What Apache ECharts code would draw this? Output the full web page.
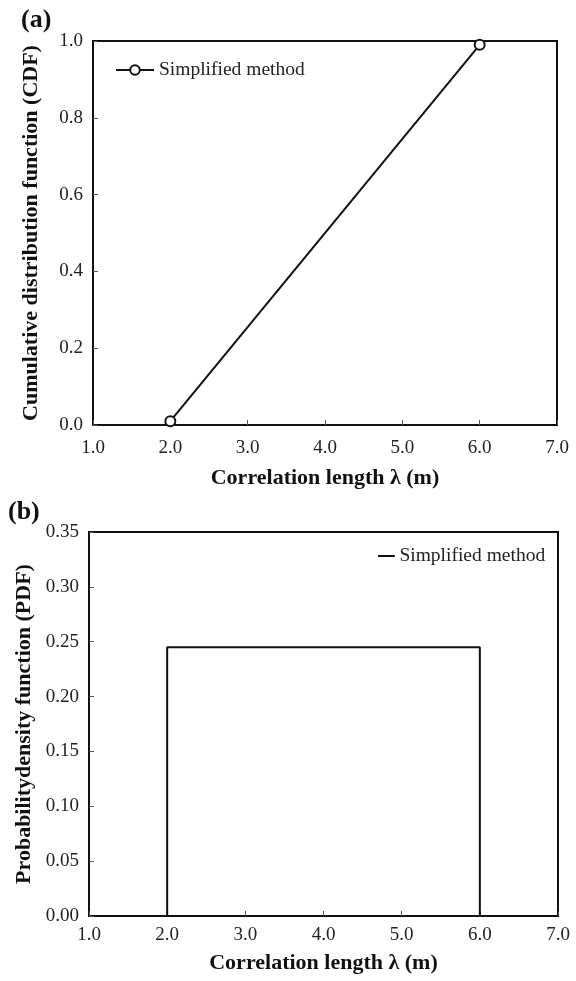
<!DOCTYPE html>
<html>
<head>
<meta charset="utf-8">
<script src="https://cdn.jsdelivr.net/npm/echarts@6/dist/echarts.min.js"></script>
<style>
  html, body { margin: 0; padding: 0; background: #fff; }
  #chart { width: 576px; height: 981px; }
</style>
</head>
<body>
<div id="chart"></div>
<script>
// data
var xTicks = [1, 2, 3, 4, 5, 6, 7];
var cdfX = [2, 6];
var cdfY = [0.01, 0.99];
var pdfX = [2, 2, 6, 6];
var pdfY = [0, 0.245, 0.245, 0];
var seriesName = 'Simplified method';

var serif = 'Liberation Serif';
var chart = echarts.init(document.getElementById('chart'));

function xAxisCfg(idx) {
  return {
    gridIndex: idx,
    type: 'value',
    min: xTicks[0], max: xTicks[xTicks.length - 1], interval: 1,
    name: 'Correlation length \u03bb (m)',
    nameLocation: 'middle',
    nameGap: idx === 0 ? 42 : 36,
    nameTextStyle: { fontFamily: serif, fontWeight: 'bold', fontSize: 22, color: '#111' },
    axisLine: { lineStyle: { color: '#111', width: 2 } },
    axisTick: { inside: true, length: 5, lineStyle: { color: '#555' } },
    axisLabel: { fontFamily: serif, fontSize: 19, color: '#222', margin: idx === 0 ? 14 : 10,
      formatter: function (v) { return v.toFixed(1); } },
    splitLine: { show: false }
  };
}

function yAxisCfg(idx, max, step, digits, title, gap) {
  return {
    gridIndex: idx,
    type: 'value',
    min: 0, max: max, interval: step,
    name: title,
    nameLocation: 'middle',
    nameGap: gap,
    nameTextStyle: { fontFamily: serif, fontWeight: 'bold', fontSize: 22, color: '#111' },
    axisLine: { show: true, lineStyle: { color: '#111', width: 2 } },
    axisTick: { inside: true, length: 5, lineStyle: { color: '#555' } },
    axisLabel: { fontFamily: serif, fontSize: 19, color: '#222', margin: 10,
      formatter: function (v) { return v.toFixed(digits); } },
    splitLine: { show: false }
  };
}

var option = {
  animation: false,
  backgroundColor: '#fff',
  title: [
    { text: '(a)', left: 16, top: 2, textStyle: { fontFamily: serif, fontWeight: 'bold', fontSize: 26, color: '#111' } },
    { text: '(b)', left: 3, top: 494, textStyle: { fontFamily: serif, fontWeight: 'bold', fontSize: 26, color: '#111' } }
  ],
  grid: [
    { left: 93, top: 41, right: 19, height: 384, show: true, borderColor: '#111', borderWidth: 2 },
    { left: 89, top: 532, right: 18, height: 384, show: true, borderColor: '#111', borderWidth: 2 }
  ],
  legend: [
    {
      data: [seriesName], left: 110, top: 55, itemWidth: 38, itemHeight: 12,
      textStyle: { fontFamily: serif, fontSize: 19.5, color: '#222' }
    },
    {
      data: [{ name: seriesName + ' ', icon: 'path://M0,0 L1,0 L1,0.12 L0,0.12 Z' }],
      right: 21, top: 541, itemWidth: 20, itemHeight: 2,
      textStyle: { fontFamily: serif, fontSize: 19.5, color: '#222', padding: [0, 0, 0, -2] },
      itemStyle: { color: '#111' }
    }
  ],
  xAxis: [xAxisCfg(0), xAxisCfg(1)],
  yAxis: [
    yAxisCfg(0, 1, 0.2, 1, 'Cumulative distribution function (CDF)', 51),
    yAxisCfg(1, 0.35, 0.05, 2, 'Probabilitydensity function (PDF)', 47)
  ],
  series: [
    {
      name: seriesName,
      type: 'line',
      xAxisIndex: 0, yAxisIndex: 0,
      data: cdfX.map(function (x, i) { return [x, cdfY[i]]; }),
      symbol: 'emptyCircle', symbolSize: 10,
      lineStyle: { color: '#111', width: 2 },
      itemStyle: { color: '#111', borderWidth: 1.2 }
    },
    {
      name: seriesName + ' ',
      type: 'line',
      xAxisIndex: 1, yAxisIndex: 1,
      data: pdfX.map(function (x, i) { return [x, pdfY[i]]; }),
      symbol: 'none',
      lineStyle: { color: '#111', width: 2 },
      itemStyle: { color: '#111' }
    }
  ]
};

chart.setOption(option);
</script>
</body>
</html>
